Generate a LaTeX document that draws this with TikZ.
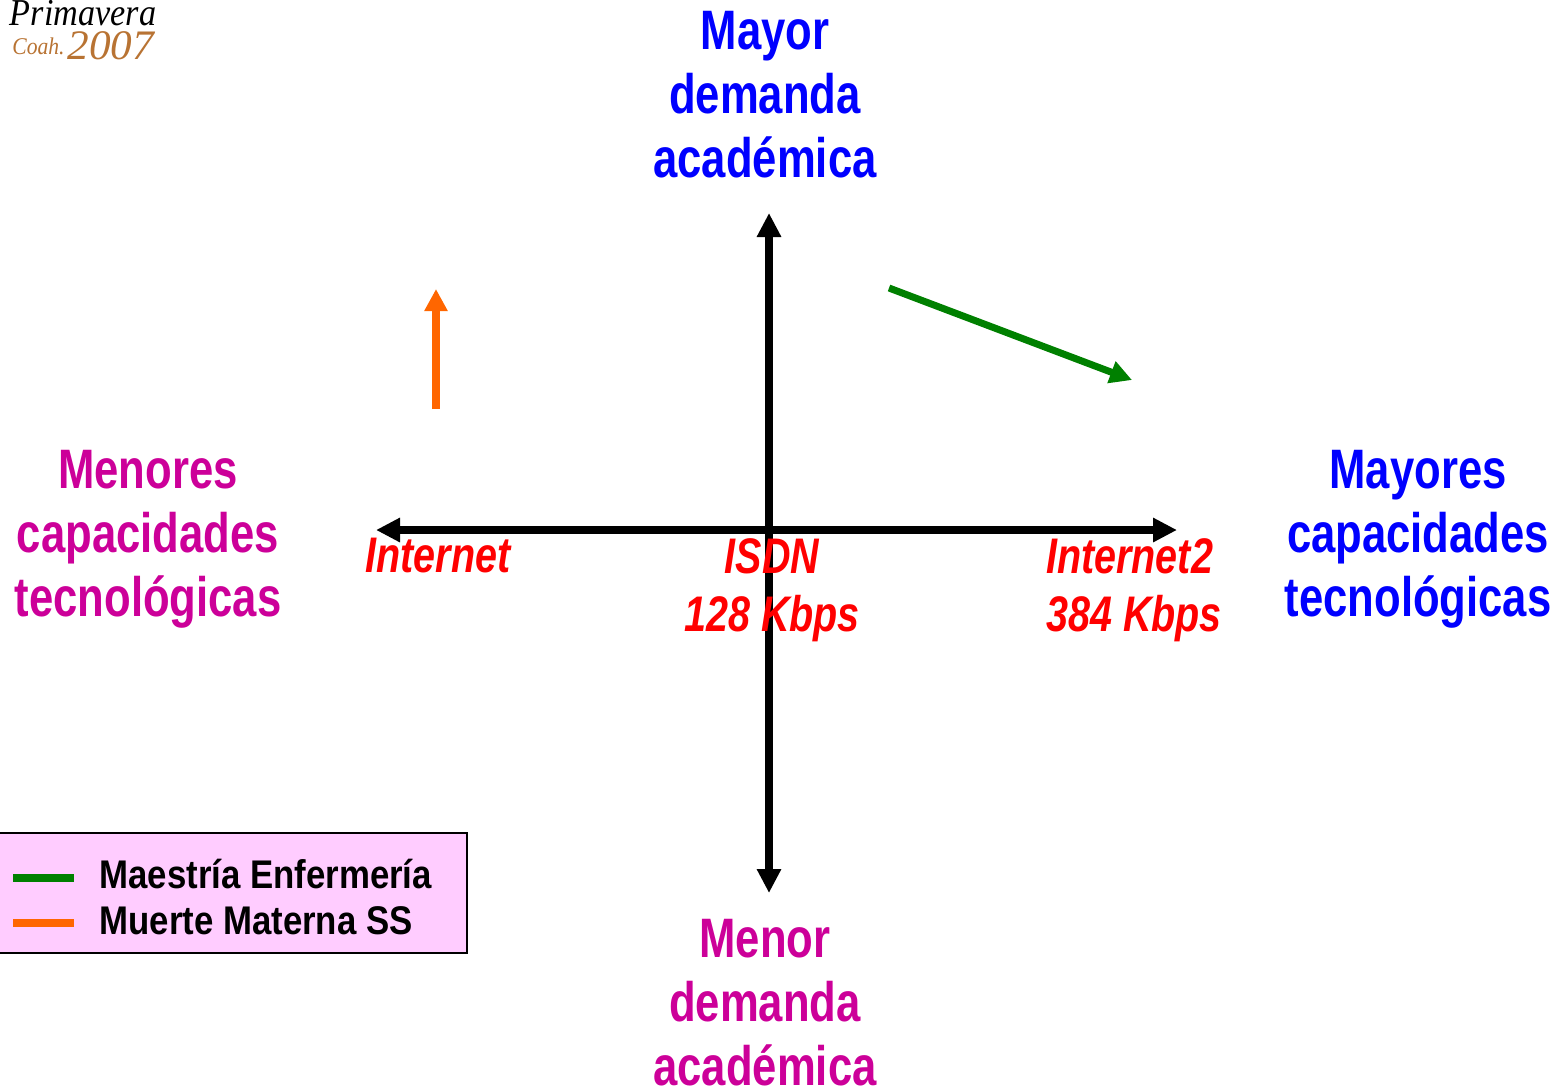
\documentclass[tikz,border=0pt]{standalone}
\usepackage{fontspec}
\setmainfont{Liberation Sans}
\newfontfamily\condfont[FakeStretch=0.785]{Liberation Sans}
\newfontfamily\redfont[FakeStretch=0.79]{Liberation Sans}
\newfontfamily\keyfont[FakeStretch=0.87]{Liberation Sans}
\newfontfamily\logofont[FakeStretch=0.9]{Liberation Serif}
\newfontfamily\yearfont[FakeStretch=1.03]{Liberation Serif}
\usepackage{tikz}
\usetikzlibrary{positioning}
\usetikzlibrary{arrows.meta}
\definecolor{keygreen}{HTML}{008000}
\definecolor{keyorange}{HTML}{FF6600}
\definecolor{lowpink}{HTML}{CC0099}
\definecolor{keyfill}{HTML}{FFCCFF}
\definecolor{logobrown}{HTML}{B87333}
\begin{document}
\begin{tikzpicture}[x=0.5pt,y=-0.5pt,
      axis/.style={line width=4pt,black,{Triangle[length=12pt,width=11.5pt]}-{Triangle[length=12pt,width=11.5pt]}},
      track/.style={-{Triangle[length=11pt,width=11pt]}},
      heading/.style={align=center,inner sep=0pt,font=\condfont\bfseries\fontsize{27.8}{32}\selectfont},
      speed/.style={inner sep=0pt,text=red,font=\redfont\bfseries\itshape\fontsize{25}{29}\selectfont},
      keytext/.style={anchor=west,inner sep=0pt,font=\keyfont\bfseries\fontsize{20}{23}\selectfont},
      keyline/.style={line width=4pt}]
\useasboundingbox (0,0) rectangle (1566,1087);
\coordinate (North) at (769,213);
\coordinate (South) at (769,893);
\coordinate (West) at (376,530);
\coordinate (East) at (1177,530);
\coordinate (GreenA) at (889,288);
\coordinate (GreenB) at (1132,380);
\coordinate (OrangeA) at (436,409);
\coordinate (OrangeB) at (436,289);
\draw [axis] (West) -- (East);
\draw [axis] (North) -- (South);
\draw [track,line width=3.5pt,keygreen] (GreenA) -- (GreenB);
\draw [track,line width=4pt,keyorange] (OrangeA) -- (OrangeB);
% axis headings
\node (Top) [heading,text=blue] at (765,95) {Mayor\\demanda\\académica};
\node (Bottom) [heading,text=lowpink] at (765,1003) {Menor\\demanda\\académica};
\node (Left) [heading,text=lowpink] at (148,539) {Menores\\capacidades\\tecnológicas};
\node (Right) [heading,text=blue] at (1418,539) {Mayores\\capacidades\\tecnológicas};
% speeds
\node (Net) [speed] at (438,556) {Internet};
\node (Isdn) [speed,align=center] at (772,590) {ISDN\\128 Kbps};
\node (Net2) [speed,align=left] at (1134,590) {Internet2\\384 Kbps};
% key
\node (Key) [draw=black,line width=1pt,fill=keyfill,minimum width=234.5pt,minimum height=60pt,inner sep=0pt,anchor=north west] at (-3,832) {};
\coordinate (GreenL) at (13,878);
\coordinate (GreenR) at (74,878);
\coordinate (OrangeL) at (13,923);
\coordinate (OrangeR) at (74,923);
\draw [keyline,keygreen] (GreenL) -- (GreenR);
\draw [keyline,keyorange] (OrangeL) -- (OrangeR);
\node (KeyA) [keytext] at (99,874) {Maestría Enfermería};
\node (KeyB) [keytext] at (99,921) {Muerte Materna SS};
% logo
\node (Logo) [inner sep=0pt,anchor=center,font=\logofont\itshape\fontsize{19}{20}\selectfont] at (83,13) {Primavera};
\node (Coah) [inner sep=0pt,anchor=west,text=logobrown,font=\logofont\itshape\fontsize{12}{14}\selectfont] at (12,46) {Coah.};
\node (Year) [inner sep=0pt,right=1pt of Coah,text=logobrown,font=\yearfont\itshape\fontsize{21}{22}\selectfont] {2007};
\end{tikzpicture}
\end{document}
